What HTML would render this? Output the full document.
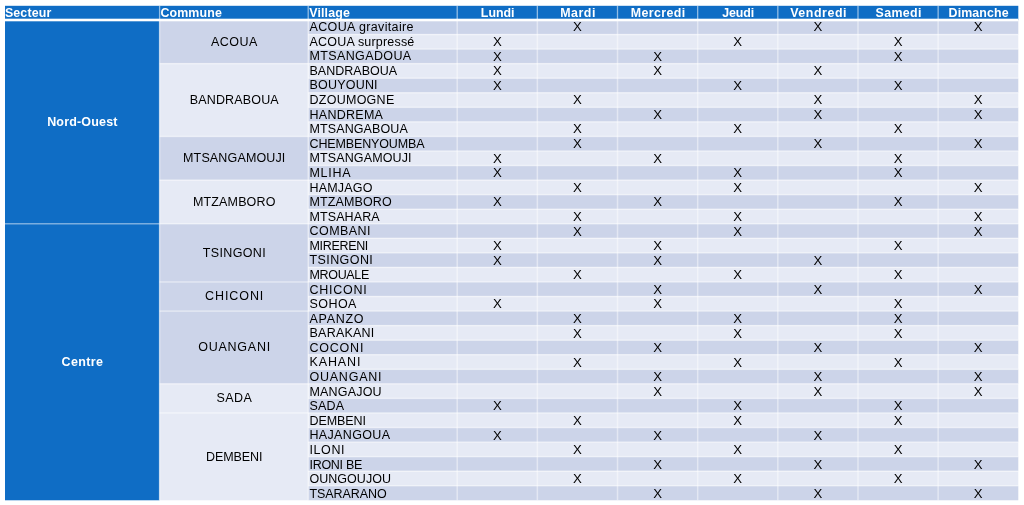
<!DOCTYPE html>
<html lang="fr"><head><meta charset="utf-8"><title>Planning de distribution</title>
<style>
html,body{margin:0;padding:0;background:#fff;width:1024px;height:505px;overflow:hidden}
svg{display:block;will-change:transform;filter:blur(0.3px)}
</style></head>
<body>
<svg width="1024" height="505" viewBox="0 0 1024 505">
<rect x="5" y="5.8" width="1013.3" height="14.2" fill="#0F6DC5"/>
<rect x="5" y="20" width="154.6" height="480.28" fill="#0F6DC5"/>
<rect x="159.6" y="20" width="148.6" height="43.66" fill="#CCD4E9"/>
<rect x="159.6" y="63.66" width="148.6" height="72.77" fill="#E6EAF5"/>
<rect x="159.6" y="136.43" width="148.6" height="43.66" fill="#CCD4E9"/>
<rect x="159.6" y="180.09" width="148.6" height="43.66" fill="#E6EAF5"/>
<rect x="159.6" y="223.76" width="148.6" height="58.22" fill="#CCD4E9"/>
<rect x="159.6" y="281.97" width="148.6" height="29.11" fill="#CCD4E9"/>
<rect x="159.6" y="311.08" width="148.6" height="72.77" fill="#CCD4E9"/>
<rect x="159.6" y="383.85" width="148.6" height="29.11" fill="#E6EAF5"/>
<rect x="159.6" y="412.96" width="148.6" height="87.32" fill="#E6EAF5"/>
<rect x="308.2" y="20" width="710.1" height="14.55" fill="#CCD4E9"/>
<rect x="308.2" y="34.55" width="710.1" height="14.55" fill="#E6EAF5"/>
<rect x="308.2" y="49.11" width="710.1" height="14.55" fill="#CCD4E9"/>
<rect x="308.2" y="63.66" width="710.1" height="14.55" fill="#E6EAF5"/>
<rect x="308.2" y="78.22" width="710.1" height="14.55" fill="#CCD4E9"/>
<rect x="308.2" y="92.77" width="710.1" height="14.55" fill="#E6EAF5"/>
<rect x="308.2" y="107.32" width="710.1" height="14.55" fill="#CCD4E9"/>
<rect x="308.2" y="121.88" width="710.1" height="14.55" fill="#E6EAF5"/>
<rect x="308.2" y="136.43" width="710.1" height="14.55" fill="#CCD4E9"/>
<rect x="308.2" y="150.99" width="710.1" height="14.55" fill="#E6EAF5"/>
<rect x="308.2" y="165.54" width="710.1" height="14.55" fill="#CCD4E9"/>
<rect x="308.2" y="180.09" width="710.1" height="14.55" fill="#E6EAF5"/>
<rect x="308.2" y="194.65" width="710.1" height="14.55" fill="#CCD4E9"/>
<rect x="308.2" y="209.2" width="710.1" height="14.55" fill="#E6EAF5"/>
<rect x="308.2" y="223.76" width="710.1" height="14.55" fill="#CCD4E9"/>
<rect x="308.2" y="238.31" width="710.1" height="14.55" fill="#E6EAF5"/>
<rect x="308.2" y="252.86" width="710.1" height="14.55" fill="#CCD4E9"/>
<rect x="308.2" y="267.42" width="710.1" height="14.55" fill="#E6EAF5"/>
<rect x="308.2" y="281.97" width="710.1" height="14.55" fill="#CCD4E9"/>
<rect x="308.2" y="296.53" width="710.1" height="14.55" fill="#E6EAF5"/>
<rect x="308.2" y="311.08" width="710.1" height="14.55" fill="#CCD4E9"/>
<rect x="308.2" y="325.63" width="710.1" height="14.55" fill="#E6EAF5"/>
<rect x="308.2" y="340.19" width="710.1" height="14.55" fill="#CCD4E9"/>
<rect x="308.2" y="354.74" width="710.1" height="14.55" fill="#E6EAF5"/>
<rect x="308.2" y="369.3" width="710.1" height="14.55" fill="#CCD4E9"/>
<rect x="308.2" y="383.85" width="710.1" height="14.55" fill="#E6EAF5"/>
<rect x="308.2" y="398.4" width="710.1" height="14.55" fill="#CCD4E9"/>
<rect x="308.2" y="412.96" width="710.1" height="14.55" fill="#E6EAF5"/>
<rect x="308.2" y="427.51" width="710.1" height="14.55" fill="#CCD4E9"/>
<rect x="308.2" y="442.07" width="710.1" height="14.55" fill="#E6EAF5"/>
<rect x="308.2" y="456.62" width="710.1" height="14.55" fill="#CCD4E9"/>
<rect x="308.2" y="471.17" width="710.1" height="14.55" fill="#E6EAF5"/>
<rect x="308.2" y="485.73" width="710.1" height="14.55" fill="#CCD4E9"/>
<rect x="308.2" y="33.8" width="710.1" height="1.5" fill="#fff" fill-opacity="0.45"/>
<rect x="308.2" y="48.36" width="710.1" height="1.5" fill="#fff" fill-opacity="0.45"/>
<rect x="308.2" y="62.91" width="710.1" height="1.5" fill="#fff" fill-opacity="0.45"/>
<rect x="308.2" y="77.47" width="710.1" height="1.5" fill="#fff" fill-opacity="0.45"/>
<rect x="308.2" y="92.02" width="710.1" height="1.5" fill="#fff" fill-opacity="0.45"/>
<rect x="308.2" y="106.57" width="710.1" height="1.5" fill="#fff" fill-opacity="0.45"/>
<rect x="308.2" y="121.13" width="710.1" height="1.5" fill="#fff" fill-opacity="0.45"/>
<rect x="308.2" y="135.68" width="710.1" height="1.5" fill="#fff" fill-opacity="0.45"/>
<rect x="308.2" y="150.24" width="710.1" height="1.5" fill="#fff" fill-opacity="0.45"/>
<rect x="308.2" y="164.79" width="710.1" height="1.5" fill="#fff" fill-opacity="0.45"/>
<rect x="308.2" y="179.34" width="710.1" height="1.5" fill="#fff" fill-opacity="0.45"/>
<rect x="308.2" y="193.9" width="710.1" height="1.5" fill="#fff" fill-opacity="0.45"/>
<rect x="308.2" y="208.45" width="710.1" height="1.5" fill="#fff" fill-opacity="0.45"/>
<rect x="308.2" y="223.01" width="710.1" height="1.5" fill="#fff" fill-opacity="0.45"/>
<rect x="308.2" y="237.56" width="710.1" height="1.5" fill="#fff" fill-opacity="0.45"/>
<rect x="308.2" y="252.11" width="710.1" height="1.5" fill="#fff" fill-opacity="0.45"/>
<rect x="308.2" y="266.67" width="710.1" height="1.5" fill="#fff" fill-opacity="0.45"/>
<rect x="308.2" y="281.22" width="710.1" height="1.5" fill="#fff" fill-opacity="0.45"/>
<rect x="308.2" y="295.78" width="710.1" height="1.5" fill="#fff" fill-opacity="0.45"/>
<rect x="308.2" y="310.33" width="710.1" height="1.5" fill="#fff" fill-opacity="0.45"/>
<rect x="308.2" y="324.88" width="710.1" height="1.5" fill="#fff" fill-opacity="0.45"/>
<rect x="308.2" y="339.44" width="710.1" height="1.5" fill="#fff" fill-opacity="0.45"/>
<rect x="308.2" y="353.99" width="710.1" height="1.5" fill="#fff" fill-opacity="0.45"/>
<rect x="308.2" y="368.55" width="710.1" height="1.5" fill="#fff" fill-opacity="0.45"/>
<rect x="308.2" y="383.1" width="710.1" height="1.5" fill="#fff" fill-opacity="0.45"/>
<rect x="308.2" y="397.65" width="710.1" height="1.5" fill="#fff" fill-opacity="0.45"/>
<rect x="308.2" y="412.21" width="710.1" height="1.5" fill="#fff" fill-opacity="0.45"/>
<rect x="308.2" y="426.76" width="710.1" height="1.5" fill="#fff" fill-opacity="0.45"/>
<rect x="308.2" y="441.32" width="710.1" height="1.5" fill="#fff" fill-opacity="0.45"/>
<rect x="308.2" y="455.87" width="710.1" height="1.5" fill="#fff" fill-opacity="0.45"/>
<rect x="308.2" y="470.42" width="710.1" height="1.5" fill="#fff" fill-opacity="0.45"/>
<rect x="308.2" y="484.98" width="710.1" height="1.5" fill="#fff" fill-opacity="0.45"/>
<rect x="159.6" y="62.91" width="148.6" height="1.5" fill="#fff" fill-opacity="0.45"/>
<rect x="159.6" y="135.68" width="148.6" height="1.5" fill="#fff" fill-opacity="0.45"/>
<rect x="159.6" y="179.34" width="148.6" height="1.5" fill="#fff" fill-opacity="0.45"/>
<rect x="159.6" y="223.01" width="148.6" height="1.5" fill="#fff" fill-opacity="0.45"/>
<rect x="159.6" y="281.22" width="148.6" height="1.5" fill="#fff" fill-opacity="0.45"/>
<rect x="159.6" y="310.33" width="148.6" height="1.5" fill="#fff" fill-opacity="0.45"/>
<rect x="159.6" y="383.1" width="148.6" height="1.5" fill="#fff" fill-opacity="0.45"/>
<rect x="159.6" y="412.21" width="148.6" height="1.5" fill="#fff" fill-opacity="0.45"/>
<rect x="5" y="223.01" width="154.6" height="1.5" fill="#fff" fill-opacity="0.45"/>
<rect x="158.85" y="20" width="1.5" height="480.28" fill="#fff" fill-opacity="0.45"/>
<rect x="158.95" y="5.8" width="1.3" height="14.2" fill="#fff" fill-opacity="0.55"/>
<rect x="307.45" y="20" width="1.5" height="480.28" fill="#fff" fill-opacity="0.45"/>
<rect x="307.55" y="5.8" width="1.3" height="14.2" fill="#fff" fill-opacity="0.55"/>
<rect x="456.45" y="20" width="1.5" height="480.28" fill="#fff" fill-opacity="0.45"/>
<rect x="456.55" y="5.8" width="1.3" height="14.2" fill="#fff" fill-opacity="0.55"/>
<rect x="536.61" y="20" width="1.5" height="480.28" fill="#fff" fill-opacity="0.45"/>
<rect x="536.71" y="5.8" width="1.3" height="14.2" fill="#fff" fill-opacity="0.55"/>
<rect x="616.76" y="20" width="1.5" height="480.28" fill="#fff" fill-opacity="0.45"/>
<rect x="616.86" y="5.8" width="1.3" height="14.2" fill="#fff" fill-opacity="0.55"/>
<rect x="696.92" y="20" width="1.5" height="480.28" fill="#fff" fill-opacity="0.45"/>
<rect x="697.02" y="5.8" width="1.3" height="14.2" fill="#fff" fill-opacity="0.55"/>
<rect x="777.08" y="20" width="1.5" height="480.28" fill="#fff" fill-opacity="0.45"/>
<rect x="777.18" y="5.8" width="1.3" height="14.2" fill="#fff" fill-opacity="0.55"/>
<rect x="857.24" y="20" width="1.5" height="480.28" fill="#fff" fill-opacity="0.45"/>
<rect x="857.34" y="5.8" width="1.3" height="14.2" fill="#fff" fill-opacity="0.55"/>
<rect x="937.39" y="20" width="1.5" height="480.28" fill="#fff" fill-opacity="0.45"/>
<rect x="937.49" y="5.8" width="1.3" height="14.2" fill="#fff" fill-opacity="0.55"/>
<rect x="5" y="18.7" width="1013.3" height="2.6" fill="#fff"/>
<g font-family="Liberation Sans, Arial, sans-serif" font-weight="bold" font-size="12.4" fill="#fff">
<text x="4.9" y="16.8" textLength="46.37">Secteur</text>
<text x="160.4" y="16.8" textLength="61.39">Commune</text>
<text x="309.2" y="16.8" textLength="40.63">Village</text>
<text x="497.68" y="16.8" text-anchor="middle" textLength="33.62">Lundi</text>
<text x="577.84" y="16.8" text-anchor="middle" textLength="35.15">Mardi</text>
<text x="657.99" y="16.8" text-anchor="middle" textLength="54.36">Mercredi</text>
<text x="738.15" y="16.8" text-anchor="middle" textLength="31.98">Jeudi</text>
<text x="818.31" y="16.8" text-anchor="middle" textLength="56.34">Vendredi</text>
<text x="898.46" y="16.8" text-anchor="middle" textLength="45.88">Samedi</text>
<text x="978.62" y="16.8" text-anchor="middle" textLength="60.02">Dimanche</text>
</g>
<g font-family="Liberation Sans, Arial, sans-serif" font-weight="bold" font-size="12.5" fill="#fff" text-anchor="middle">
<text x="82.3" y="126.33" textLength="70.25">Nord-Ouest</text>
<text x="82.3" y="366.47" textLength="41.39">Centre</text>
</g>
<g font-family="Liberation Sans, Arial, sans-serif" font-size="12.5" fill="#000000">
<text x="234.2" y="45.73" text-anchor="middle" textLength="46.4">ACOUA</text>
<text x="234.2" y="103.95" text-anchor="middle" textLength="89.03">BANDRABOUA</text>
<text x="234.2" y="162.16" text-anchor="middle" textLength="102.3">MTSANGAMOUJI</text>
<text x="234.2" y="205.82" text-anchor="middle" textLength="82.35">MTZAMBORO</text>
<text x="234.2" y="256.76" text-anchor="middle" textLength="63.12">TSINGONI</text>
<text x="234.2" y="300.43" text-anchor="middle" textLength="58.18">CHICONI</text>
<text x="234.2" y="351.36" text-anchor="middle" textLength="72.09">OUANGANI</text>
<text x="234.2" y="402.3" text-anchor="middle" textLength="35.35">SADA</text>
<text x="234.2" y="460.52" text-anchor="middle" textLength="56.45">DEMBENI</text>
<text x="309.5" y="31.1" textLength="104.01">ACOUA gravitaire</text>
<text x="309.5" y="45.68" textLength="104.82">ACOUA surpressé</text>
<text x="309.5" y="60.26" textLength="101.64">MTSANGADOUA</text>
<text x="309.5" y="74.85" textLength="87.63">BANDRABOUA</text>
<text x="309.5" y="89.43" textLength="68.09">BOUYOUNI</text>
<text x="309.5" y="104.01" textLength="84.74">DZOUMOGNE</text>
<text x="309.5" y="118.59" textLength="73.45">HANDREMA</text>
<text x="309.5" y="133.17" textLength="98.25">MTSANGABOUA</text>
<text x="309.5" y="147.76" textLength="115.09">CHEMBENYOUMBA</text>
<text x="309.5" y="162.34" textLength="102.0">MTSANGAMOUJI</text>
<text x="309.5" y="176.92" textLength="41.0">MLIHA</text>
<text x="309.5" y="191.5" textLength="63.01">HAMJAGO</text>
<text x="309.5" y="206.08" textLength="82.25">MTZAMBORO</text>
<text x="309.5" y="220.67" textLength="70.15">MTSAHARA</text>
<text x="309.5" y="235.25" textLength="61.04">COMBANI</text>
<text x="309.5" y="249.83" textLength="58.82">MIRERENI</text>
<text x="309.5" y="264.41" textLength="63.32">TSINGONI</text>
<text x="309.5" y="278.99" textLength="59.83">MROUALE</text>
<text x="309.5" y="293.58" textLength="57.28">CHICONI</text>
<text x="309.5" y="308.16" textLength="46.96">SOHOA</text>
<text x="309.5" y="322.74" textLength="53.98">APANZO</text>
<text x="309.5" y="337.32" textLength="64.82">BARAKANI</text>
<text x="309.5" y="351.9" textLength="53.9">COCONI</text>
<text x="309.5" y="366.49" textLength="50.95">KAHANI</text>
<text x="309.5" y="381.07" textLength="71.99">OUANGANI</text>
<text x="309.5" y="395.65" textLength="72.14">MANGAJOU</text>
<text x="309.5" y="410.23" textLength="34.65">SADA</text>
<text x="309.5" y="424.81" textLength="56.55">DEMBENI</text>
<text x="309.5" y="439.4" textLength="80.5">HAJANGOUA</text>
<text x="309.5" y="453.98" textLength="35.06">ILONI</text>
<text x="309.5" y="468.56" textLength="52.77">IRONI BE</text>
<text x="309.5" y="483.14" textLength="81.45">OUNGOUJOU</text>
<text x="309.5" y="497.72" textLength="77.3">TSARARANO</text>
<text x="577.44" y="31.35" text-anchor="middle" font-size="13.2">X</text>
<text x="817.91" y="31.35" text-anchor="middle" font-size="13.2">X</text>
<text x="978.22" y="31.35" text-anchor="middle" font-size="13.2">X</text>
<text x="497.28" y="45.93" text-anchor="middle" font-size="13.2">X</text>
<text x="737.75" y="45.93" text-anchor="middle" font-size="13.2">X</text>
<text x="898.06" y="45.93" text-anchor="middle" font-size="13.2">X</text>
<text x="497.28" y="60.51" text-anchor="middle" font-size="13.2">X</text>
<text x="657.59" y="60.51" text-anchor="middle" font-size="13.2">X</text>
<text x="898.06" y="60.51" text-anchor="middle" font-size="13.2">X</text>
<text x="497.28" y="75.1" text-anchor="middle" font-size="13.2">X</text>
<text x="657.59" y="75.1" text-anchor="middle" font-size="13.2">X</text>
<text x="817.91" y="75.1" text-anchor="middle" font-size="13.2">X</text>
<text x="497.28" y="89.68" text-anchor="middle" font-size="13.2">X</text>
<text x="737.75" y="89.68" text-anchor="middle" font-size="13.2">X</text>
<text x="898.06" y="89.68" text-anchor="middle" font-size="13.2">X</text>
<text x="577.44" y="104.26" text-anchor="middle" font-size="13.2">X</text>
<text x="817.91" y="104.26" text-anchor="middle" font-size="13.2">X</text>
<text x="978.22" y="104.26" text-anchor="middle" font-size="13.2">X</text>
<text x="657.59" y="118.84" text-anchor="middle" font-size="13.2">X</text>
<text x="817.91" y="118.84" text-anchor="middle" font-size="13.2">X</text>
<text x="978.22" y="118.84" text-anchor="middle" font-size="13.2">X</text>
<text x="577.44" y="133.42" text-anchor="middle" font-size="13.2">X</text>
<text x="737.75" y="133.42" text-anchor="middle" font-size="13.2">X</text>
<text x="898.06" y="133.42" text-anchor="middle" font-size="13.2">X</text>
<text x="577.44" y="148.01" text-anchor="middle" font-size="13.2">X</text>
<text x="817.91" y="148.01" text-anchor="middle" font-size="13.2">X</text>
<text x="978.22" y="148.01" text-anchor="middle" font-size="13.2">X</text>
<text x="497.28" y="162.59" text-anchor="middle" font-size="13.2">X</text>
<text x="657.59" y="162.59" text-anchor="middle" font-size="13.2">X</text>
<text x="898.06" y="162.59" text-anchor="middle" font-size="13.2">X</text>
<text x="497.28" y="177.17" text-anchor="middle" font-size="13.2">X</text>
<text x="737.75" y="177.17" text-anchor="middle" font-size="13.2">X</text>
<text x="898.06" y="177.17" text-anchor="middle" font-size="13.2">X</text>
<text x="577.44" y="191.75" text-anchor="middle" font-size="13.2">X</text>
<text x="737.75" y="191.75" text-anchor="middle" font-size="13.2">X</text>
<text x="978.22" y="191.75" text-anchor="middle" font-size="13.2">X</text>
<text x="497.28" y="206.33" text-anchor="middle" font-size="13.2">X</text>
<text x="657.59" y="206.33" text-anchor="middle" font-size="13.2">X</text>
<text x="898.06" y="206.33" text-anchor="middle" font-size="13.2">X</text>
<text x="577.44" y="220.92" text-anchor="middle" font-size="13.2">X</text>
<text x="737.75" y="220.92" text-anchor="middle" font-size="13.2">X</text>
<text x="978.22" y="220.92" text-anchor="middle" font-size="13.2">X</text>
<text x="577.44" y="235.5" text-anchor="middle" font-size="13.2">X</text>
<text x="737.75" y="235.5" text-anchor="middle" font-size="13.2">X</text>
<text x="978.22" y="235.5" text-anchor="middle" font-size="13.2">X</text>
<text x="497.28" y="250.08" text-anchor="middle" font-size="13.2">X</text>
<text x="657.59" y="250.08" text-anchor="middle" font-size="13.2">X</text>
<text x="898.06" y="250.08" text-anchor="middle" font-size="13.2">X</text>
<text x="497.28" y="264.66" text-anchor="middle" font-size="13.2">X</text>
<text x="657.59" y="264.66" text-anchor="middle" font-size="13.2">X</text>
<text x="817.91" y="264.66" text-anchor="middle" font-size="13.2">X</text>
<text x="577.44" y="279.24" text-anchor="middle" font-size="13.2">X</text>
<text x="737.75" y="279.24" text-anchor="middle" font-size="13.2">X</text>
<text x="898.06" y="279.24" text-anchor="middle" font-size="13.2">X</text>
<text x="657.59" y="293.83" text-anchor="middle" font-size="13.2">X</text>
<text x="817.91" y="293.83" text-anchor="middle" font-size="13.2">X</text>
<text x="978.22" y="293.83" text-anchor="middle" font-size="13.2">X</text>
<text x="497.28" y="308.41" text-anchor="middle" font-size="13.2">X</text>
<text x="657.59" y="308.41" text-anchor="middle" font-size="13.2">X</text>
<text x="898.06" y="308.41" text-anchor="middle" font-size="13.2">X</text>
<text x="577.44" y="322.99" text-anchor="middle" font-size="13.2">X</text>
<text x="737.75" y="322.99" text-anchor="middle" font-size="13.2">X</text>
<text x="898.06" y="322.99" text-anchor="middle" font-size="13.2">X</text>
<text x="577.44" y="337.57" text-anchor="middle" font-size="13.2">X</text>
<text x="737.75" y="337.57" text-anchor="middle" font-size="13.2">X</text>
<text x="898.06" y="337.57" text-anchor="middle" font-size="13.2">X</text>
<text x="657.59" y="352.15" text-anchor="middle" font-size="13.2">X</text>
<text x="817.91" y="352.15" text-anchor="middle" font-size="13.2">X</text>
<text x="978.22" y="352.15" text-anchor="middle" font-size="13.2">X</text>
<text x="577.44" y="366.74" text-anchor="middle" font-size="13.2">X</text>
<text x="737.75" y="366.74" text-anchor="middle" font-size="13.2">X</text>
<text x="898.06" y="366.74" text-anchor="middle" font-size="13.2">X</text>
<text x="657.59" y="381.32" text-anchor="middle" font-size="13.2">X</text>
<text x="817.91" y="381.32" text-anchor="middle" font-size="13.2">X</text>
<text x="978.22" y="381.32" text-anchor="middle" font-size="13.2">X</text>
<text x="657.59" y="395.9" text-anchor="middle" font-size="13.2">X</text>
<text x="817.91" y="395.9" text-anchor="middle" font-size="13.2">X</text>
<text x="978.22" y="395.9" text-anchor="middle" font-size="13.2">X</text>
<text x="497.28" y="410.48" text-anchor="middle" font-size="13.2">X</text>
<text x="737.75" y="410.48" text-anchor="middle" font-size="13.2">X</text>
<text x="898.06" y="410.48" text-anchor="middle" font-size="13.2">X</text>
<text x="577.44" y="425.06" text-anchor="middle" font-size="13.2">X</text>
<text x="737.75" y="425.06" text-anchor="middle" font-size="13.2">X</text>
<text x="898.06" y="425.06" text-anchor="middle" font-size="13.2">X</text>
<text x="497.28" y="439.65" text-anchor="middle" font-size="13.2">X</text>
<text x="657.59" y="439.65" text-anchor="middle" font-size="13.2">X</text>
<text x="817.91" y="439.65" text-anchor="middle" font-size="13.2">X</text>
<text x="577.44" y="454.23" text-anchor="middle" font-size="13.2">X</text>
<text x="737.75" y="454.23" text-anchor="middle" font-size="13.2">X</text>
<text x="898.06" y="454.23" text-anchor="middle" font-size="13.2">X</text>
<text x="657.59" y="468.81" text-anchor="middle" font-size="13.2">X</text>
<text x="817.91" y="468.81" text-anchor="middle" font-size="13.2">X</text>
<text x="978.22" y="468.81" text-anchor="middle" font-size="13.2">X</text>
<text x="577.44" y="483.39" text-anchor="middle" font-size="13.2">X</text>
<text x="737.75" y="483.39" text-anchor="middle" font-size="13.2">X</text>
<text x="898.06" y="483.39" text-anchor="middle" font-size="13.2">X</text>
<text x="657.59" y="497.97" text-anchor="middle" font-size="13.2">X</text>
<text x="817.91" y="497.97" text-anchor="middle" font-size="13.2">X</text>
<text x="978.22" y="497.97" text-anchor="middle" font-size="13.2">X</text>
</g>
</svg>
</body></html>
